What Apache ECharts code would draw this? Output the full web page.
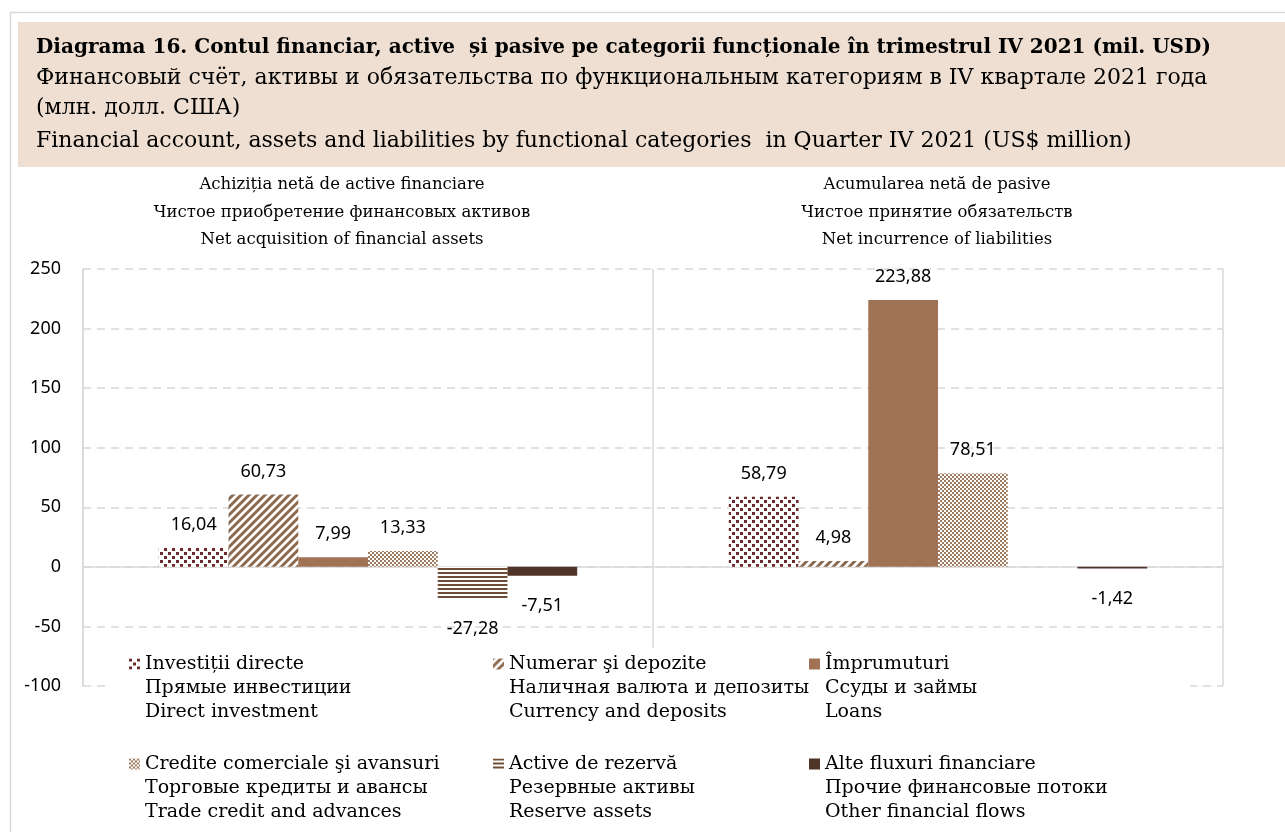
<!DOCTYPE html>
<html>
<head>
<meta charset="utf-8">
<title>Diagrama 16</title>
<script src="https://cdn.jsdelivr.net/npm/echarts@6.0.0/dist/echarts.min.js"></script>
<style>
    html, body { margin: 0; padding: 0; background: #fff; }
    #chart { width: 1285px; height: 832px; }
</style>
</head>
<body>
<div id="chart"></div>
<script>
var titleLines = [
    'Diagrama 16. Contul financiar, active  și pasive pe categorii funcționale în trimestrul IV 2021 (mil. USD)',
    'Финансовый счёт, активы и обязательства по функциональным категориям в IV квартале 2021 года',
    '(млн. долл. США)',
    'Financial account, assets and liabilities by functional categories  in Quarter IV 2021 (US$ million)'
];
var categories = ['Achiziția netă de active financiare', 'Acumularea netă de pasive'];
var categoriesRu = ['Чистое приобретение финансовых активов', 'Чистое принятие обязательств'];
var categoriesEn = ['Net acquisition of financial assets', 'Net incurrence of liabilities'];

var seriesNames = ['Investiții directe', 'Numerar şi depozite', 'Împrumuturi', 'Credite comerciale şi avansuri', 'Active de rezervă', 'Alte fluxuri financiare'];
var seriesNamesRu = ['Прямые инвестиции', 'Наличная валюта и депозиты', 'Ссуды и займы', 'Торговые кредиты и авансы', 'Резервные активы', 'Прочие финансовые потоки'];
var seriesNamesEn = ['Direct investment', 'Currency and deposits', 'Loans', 'Trade credit and advances', 'Reserve assets', 'Other financial flows'];

// valori: [active, pasive]
var directInvestment = [16.04, 58.79];
var currencyDeposits = [60.73, 4.98];
var loans = [7.99, 223.88];
var tradeCredit = [13.33, 78.51];
var reserveAssets = [-27.28, null];
var otherFlows = [-7.51, -1.42];

var yMin = -100;
var yMax = 250;
var yStep = 50;

var serif = '"DejaVu Serif", "Liberation Serif", serif';
var sans = '"Noto Sans", "Open Sans", sans-serif';

// hasuri (pattern) pentru bare
function makePattern(w, h, fg, draw) {
    var c = document.createElement('canvas');
    c.width = w;
    c.height = h;
    var ctx = c.getContext('2d');
    ctx.fillStyle = '#ffffff';
    ctx.fillRect(0, 0, w, h);
    ctx.fillStyle = fg;
    ctx.strokeStyle = fg;
    draw(ctx);
    return { image: c, repeat: 'repeat' };
}

var patDirect = makePattern(8, 8, '#6e2a2a', function (ctx) {
    ctx.fillRect(0, 0, 3, 3);
    ctx.fillRect(4, 4, 3, 3);
});
var patCurrency = makePattern(8, 8, '#8b6a4f', function (ctx) {
    ctx.lineWidth = 3;
    ctx.beginPath();
    ctx.moveTo(-1, 9); ctx.lineTo(9, -1);
    ctx.moveTo(-5, 5); ctx.lineTo(5, -5);
    ctx.moveTo(3, 13); ctx.lineTo(13, 3);
    ctx.stroke();
});
var patTrade = makePattern(4, 4, '#9f7a5f', function (ctx) {
    ctx.fillRect(0, 0, 2, 2);
    ctx.fillRect(2, 2, 2, 2);
});
var patReserve = makePattern(4, 4, '#6f4d35', function (ctx) {
    ctx.fillRect(0, 0, 4, 2);
});

var colors = [patDirect, patCurrency, '#a07356', patTrade, patReserve, '#4f3528'];
var values = [directInvestment, currencyDeposits, loans, tradeCredit, reserveAssets, otherFlows];

function fmt(v) {
    return v.toFixed(2).replace('.', ',');
}

var series = [];
for (var i = 0; i < seriesNames.length; i++) {
    series.push({
        name: seriesNames[i],
        type: 'bar',
        barGap: '0%',
        barCategoryGap: '26.6%',
        itemStyle: { color: colors[i] },
        label: {
            show: true,
            fontFamily: sans,
            fontSize: 18,
            color: '#000',
            formatter: function (p) { return p.value == null ? '' : fmt(p.value); }
        },
        data: values[i].map(function (v) {
            if (v == null) return null;
            return { value: v, label: { position: v < 0 ? 'bottom' : 'top', distance: v < 0 ? 21 : 14 } };
        })
    });
}

// doua randuri goale in fata ca iconita sa stea pe primul rand
function legendLabel(name) {
    var k = seriesNames.indexOf(name);
    return '\n\n' + seriesNames[k] + '\n' + seriesNamesRu[k] + '\n' + seriesNamesEn[k];
}

function legendCol(names, left) {
    return {
        orient: 'vertical',
        left: left,
        top: 604,
        padding: 0,
        itemGap: -20,
        itemWidth: 11,
        itemHeight: 11,
        icon: 'rect',
        z: 60,
        selectedMode: false,
        data: names,
        formatter: legendLabel,
        textStyle: { fontFamily: serif, fontSize: 19, lineHeight: 24, color: '#000' }
    };
}

var graphics = [
    { type: 'rect', z: -1, z2: 0, silent: true, shape: { x: 10.5, y: 12.5, width: 1300, height: 900 }, style: { fill: '#fff', stroke: '#d9d9d9', lineWidth: 1.5 } },
    { type: 'rect', z: -1, z2: 1, silent: true, shape: { x: 18, y: 22, width: 1280, height: 145 }, style: { fill: '#eedfd2' } },
    { type: 'rect', z: 50, silent: true, shape: { x: 110, y: 648, width: 1080, height: 190 }, style: { fill: '#fff' } }
];
var titleY = [48, 78, 108, 141];
for (var t = 0; t < titleLines.length; t++) {
    graphics.push({
        type: 'text', z: 60, x: 36, y: titleY[t],
        style: { text: titleLines[t], fontFamily: serif, fontSize: t == 0 ? 20 : 22, fontWeight: t == 0 ? 'bold' : 'normal', fill: '#000', align: 'left', verticalAlign: 'middle' }
    });
}
var subX = [342, 937];
var subY = [185, 213, 240];
for (var c = 0; c < categories.length; c++) {
    var lines = [categories[c], categoriesRu[c], categoriesEn[c]];
    for (var l = 0; l < 3; l++) {
        graphics.push({
            type: 'text', z: 60, x: subX[c], y: subY[l],
            style: { text: lines[l], fontFamily: serif, fontSize: 16.5, fill: '#000', align: 'center', verticalAlign: 'middle' }
        });
    }
}

var myChart = echarts.init(document.getElementById('chart'));
var option = {
    animation: false,
    backgroundColor: '#fff',
    grid: { left: 83, right: 62, top: 269, bottom: 146, outerBoundsMode: 'none' },
    xAxis: {
        type: 'category',
        data: categories,
        axisLine: { onZero: true, lineStyle: { color: '#d9d9d9', width: 1.5 } },
        axisTick: { show: false },
        axisLabel: { show: false },
        splitLine: { show: true, lineStyle: { color: '#d9d9d9', width: 1.5 } }
    },
    yAxis: {
        type: 'value',
        min: yMin,
        max: yMax,
        interval: yStep,
        axisLine: { show: true, lineStyle: { color: '#d9d9d9', width: 1.5 } },
        axisTick: { show: false },
        axisLabel: { fontFamily: sans, fontSize: 18, color: '#000', margin: 22 },
        splitLine: { lineStyle: { color: '#d9d9d9', width: 1.5, type: [8, 6] } }
    },
    legend: [
        legendCol([seriesNames[0], seriesNames[3]], 129),
        legendCol([seriesNames[1], seriesNames[4]], 493),
        legendCol([seriesNames[2], seriesNames[5]], 809)
    ],
    graphic: { elements: graphics },
    series: series
};
myChart.setOption(option);
</script>
</body>
</html>
